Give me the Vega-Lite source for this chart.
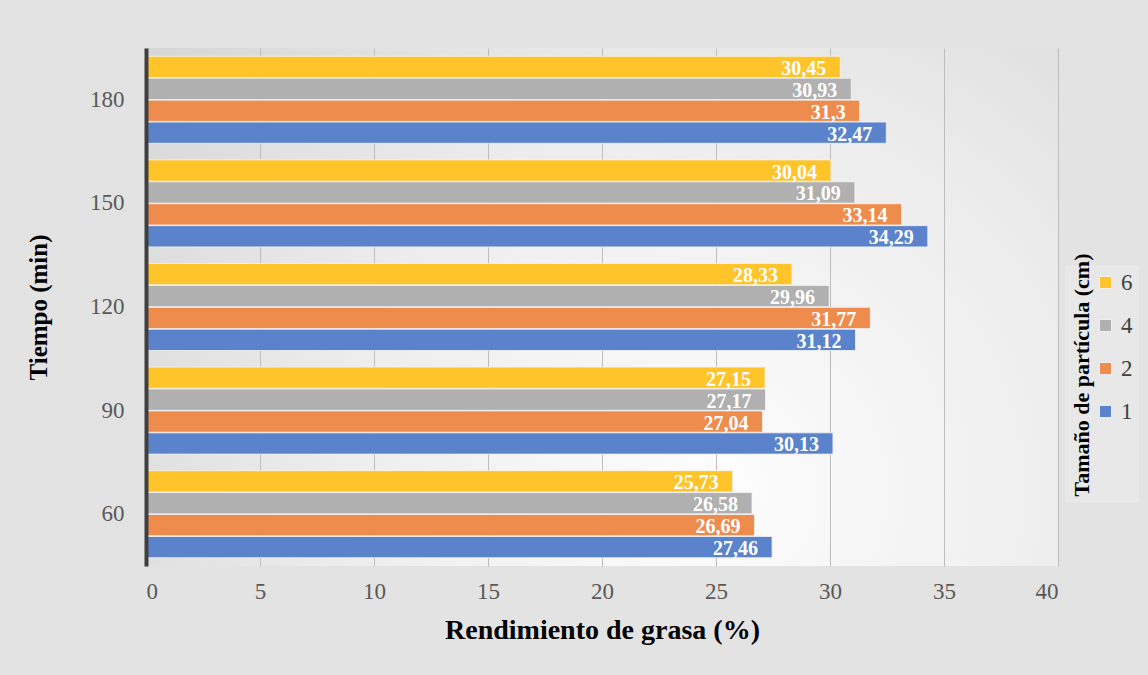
{
  "$schema": "https://vega.github.io/schema/vega-lite/v6.json",
  "width": 912,
  "height": 518,
  "autosize": {"type": "none"},
  "padding": {"left": 146, "top": 48, "right": 90, "bottom": 109},
  "background": "#e3e3e3",
  "config": {
    "locale": {"number": {"decimal": ",", "thousands": ".", "grouping": [3], "currency": ["", " €"]}},
    "view": {
      "stroke": null,
      "fill": {
        "gradient": "radial",
        "x1": 0.62, "y1": 0.7, "r1": 0,
        "x2": 0.62, "y2": 0.7, "r2": 0.85,
        "stops": [
          {"offset": 0, "color": "#fdfdfd"},
          {"offset": 0.5, "color": "#ececec"},
          {"offset": 1, "color": "#d2d2d2"}
        ]
      }
    },
    "font": "Liberation Serif"
  },
  "data": {
    "values": [
      {"tiempo": "60", "tamano": "1", "rendimiento": 27.46},
      {"tiempo": "60", "tamano": "2", "rendimiento": 26.69},
      {"tiempo": "60", "tamano": "4", "rendimiento": 26.58},
      {"tiempo": "60", "tamano": "6", "rendimiento": 25.73},
      {"tiempo": "90", "tamano": "1", "rendimiento": 30.13},
      {"tiempo": "90", "tamano": "2", "rendimiento": 27.04},
      {"tiempo": "90", "tamano": "4", "rendimiento": 27.17},
      {"tiempo": "90", "tamano": "6", "rendimiento": 27.15},
      {"tiempo": "120", "tamano": "1", "rendimiento": 31.12},
      {"tiempo": "120", "tamano": "2", "rendimiento": 31.77},
      {"tiempo": "120", "tamano": "4", "rendimiento": 29.96},
      {"tiempo": "120", "tamano": "6", "rendimiento": 28.33},
      {"tiempo": "150", "tamano": "1", "rendimiento": 34.29},
      {"tiempo": "150", "tamano": "2", "rendimiento": 33.14},
      {"tiempo": "150", "tamano": "4", "rendimiento": 31.09},
      {"tiempo": "150", "tamano": "6", "rendimiento": 30.04},
      {"tiempo": "180", "tamano": "1", "rendimiento": 32.47},
      {"tiempo": "180", "tamano": "2", "rendimiento": 31.3},
      {"tiempo": "180", "tamano": "4", "rendimiento": 30.93},
      {"tiempo": "180", "tamano": "6", "rendimiento": 30.45}
    ]
  },
  "encoding": {
    "x": {
      "field": "rendimiento",
      "type": "quantitative",
      "scale": {"domain": [0, 40], "nice": false},
      "axis": {
        "title": "Rendimiento de grasa (%)",
        "values": [0, 5, 10, 15, 20, 25, 30, 35, 40],
        "domain": false,
        "ticks": false,
        "grid": true,
        "gridColor": "#bdbdbd",
        "gridWidth": 1,
        "labelFont": "Liberation Serif",
        "labelFontSize": 23,
        "labelColor": "#595959",
        "labelPadding": 14,
        "titleFont": "Liberation Serif",
        "titleFontSize": 28,
        "titleFontWeight": "bold",
        "titleColor": "#000000",
        "titlePadding": 13
      }
    },
    "y": {
      "field": "tiempo",
      "type": "nominal",
      "sort": ["180", "150", "120", "90", "60"],
      "scale": {"paddingInner": 0.16, "paddingOuter": 0.08},
      "axis": {
        "title": "Tiempo (min)",
        "zindex": 2,
        "domain": true,
        "domainColor": "#3f3f3f",
        "domainWidth": 4,
        "ticks": false,
        "grid": false,
        "labelFont": "Liberation Serif",
        "labelFontSize": 23,
        "labelColor": "#595959",
        "labelPadding": 22,
        "titleFont": "Liberation Serif",
        "titleFontSize": 25,
        "titleFontWeight": "bold",
        "titleColor": "#000000",
        "titlePadding": 38
      }
    },
    "yOffset": {
      "field": "tamano",
      "type": "nominal",
      "sort": ["6", "4", "2", "1"],
      "scale": {"paddingInner": 0.03}
    }
  },
  "layer": [
    {
      "mark": {"type": "bar", "stroke": "#f4f4f4", "strokeWidth": 1, "strokeOpacity": 0.8},
      "encoding": {
        "color": {
          "field": "tamano",
          "type": "nominal",
          "scale": {
            "domain": ["6", "4", "2", "1"],
            "range": ["#fec42a", "#b0b0b0", "#ee8c4e", "#5b83cb"]
          },
          "legend": {
            "title": "Tamaño de partícula (cm)",
            "orient": "none",
            "legendX": 919,
            "legendY": 217,
            "titleOrient": "left",
            "titleAnchor": "middle",
            "titleAlign": "center",
            "titleLimit": 400,
            "titleFont": "Liberation Serif",
            "titleFontSize": 22,
            "titleFontWeight": "bold",
            "titleColor": "#000000",
            "titlePadding": -11,
            "symbolType": "square",
            "symbolSize": 150,
            "symbolStrokeColor": "#f4f4f4",
            "symbolStrokeWidth": 1,
            "labelFont": "Liberation Serif",
            "labelFontSize": 23,
            "labelColor": "#404040",
            "labelOffset": 4,
            "rowPadding": 19,
            "fillColor": "#e8e8e8",
            "padding": 6,
            "encode": {
              "title": {"update": {"angle": {"value": 270}, "dx": {"value": -28}}}
            }
          }
        }
      }
    },
    {
      "mark": {
        "type": "text",
        "align": "right",
        "baseline": "middle",
        "dx": -14,
        "dy": 2,
        "font": "Liberation Serif",
        "fontSize": 20,
        "fontWeight": "bold",
        "color": "#ffffff"
      },
      "encoding": {
        "text": {"field": "rendimiento", "type": "quantitative", "format": ".2~f"}
      }
    }
  ]
}
